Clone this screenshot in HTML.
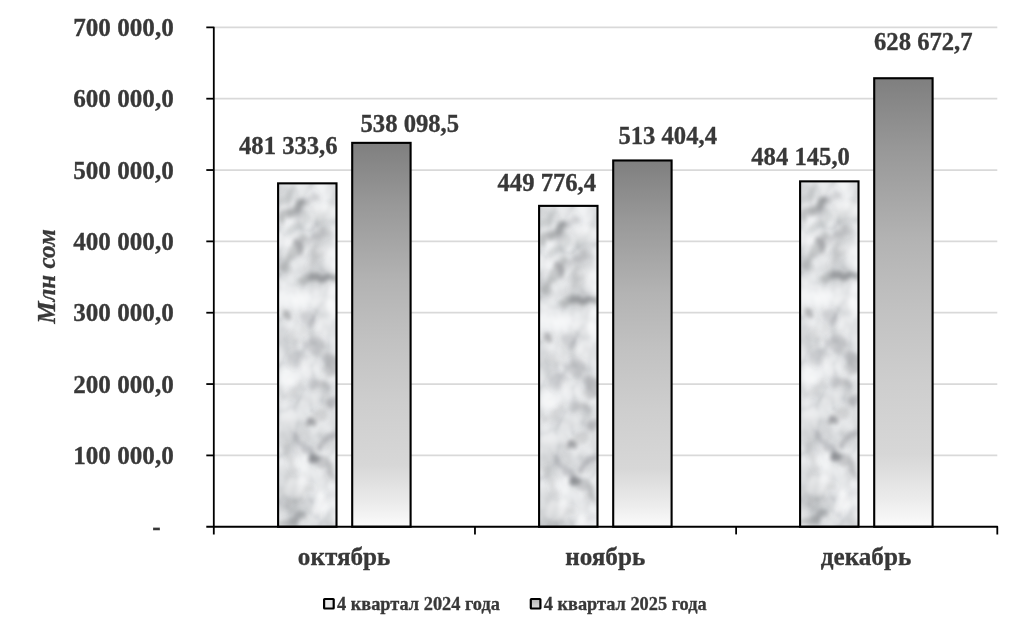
<!DOCTYPE html>
<html>
<head>
<meta charset="utf-8">
<style>
html,body{margin:0;padding:0;background:#fff;}
body{width:1024px;height:636px;overflow:hidden;font-family:"Liberation Serif",serif;}
svg{display:block;filter:blur(0.35px);}
text{font-family:"Liberation Serif",serif;font-weight:bold;fill:#383838;stroke:#383838;stroke-width:0.3px;}
</style>
</head>
<body>
<svg width="1024" height="636" viewBox="0 0 1024 636">
<defs>
<linearGradient id="g" x1="0" y1="0" x2="0" y2="1">
<stop offset="0" stop-color="#7f7f7f"/>
<stop offset="0.16" stop-color="#989898"/>
<stop offset="0.36" stop-color="#b3b3b3"/>
<stop offset="0.52" stop-color="#c2c2c2"/>
<stop offset="0.68" stop-color="#cecece"/>
<stop offset="0.84" stop-color="#d7d7d7"/>
<stop offset="0.94" stop-color="#ececec"/>
<stop offset="1" stop-color="#fbfbfb"/>
</linearGradient>
<filter id="marble" x="0" y="0" width="100%" height="100%" color-interpolation-filters="sRGB">
<feTurbulence type="turbulence" baseFrequency="0.03 0.022" numOctaves="3" seed="11" result="t"/>
<feColorMatrix in="t" type="matrix" values="1 0 0 0 0  1 0 0 0 0  1 0 0 0 0  0 0 0 0 1" result="tg"/>
<feComponentTransfer in="tg" result="veins">
<feFuncR type="table" tableValues="0.90 0.95 0.98 1 1 1 1 1"/>
<feFuncG type="table" tableValues="0.905 0.953 0.981 1 1 1 1 1"/>
<feFuncB type="table" tableValues="0.91 0.956 0.982 1 1 1 1 1"/>
</feComponentTransfer>
<feTurbulence type="fractalNoise" baseFrequency="0.04 0.03" numOctaves="3" seed="5" result="f"/>
<feColorMatrix in="f" type="matrix" values="0 1 0 0 0  0 1 0 0 0  0 1 0 0 0  0 0 0 0 1" result="fg"/>
<feComponentTransfer in="fg" result="cloud">
<feFuncR type="table" tableValues="0.81 0.81 0.845 0.90 0.943 0.966 0.966"/>
<feFuncG type="table" tableValues="0.818 0.818 0.853 0.907 0.949 0.97 0.97"/>
<feFuncB type="table" tableValues="0.826 0.826 0.861 0.914 0.955 0.974 0.974"/>
</feComponentTransfer>
<feBlend in="veins" in2="cloud" mode="multiply"/>
<feGaussianBlur stdDeviation="0.9"/>
</filter>
<filter id="vb" x="-20%" y="-5%" width="140%" height="110%"><feTurbulence type="fractalNoise" baseFrequency="0.07 0.06" numOctaves="2" seed="2" result="d"/><feDisplacementMap in="SourceGraphic" in2="d" scale="14" xChannelSelector="R" yChannelSelector="G" result="w"/><feGaussianBlur in="w" stdDeviation="2.0"/></filter>
<g id="mtex">
<rect x="-2" y="-2" width="62" height="352" fill="#e6e8ea" filter="url(#marble)"/>
<g filter="url(#vb)" stroke="#6c6e72" fill="#6c6e72" stroke-linecap="round">
<line x1="36" y1="12" x2="15" y2="29" stroke-width="8.4" stroke-opacity="0.2" fill="none"/>
<line x1="22" y1="21" x2="2" y2="36" stroke-width="8.4" stroke-opacity="0.36" fill="none"/>
<line x1="28" y1="30" x2="10" y2="46" stroke-width="7.2" stroke-opacity="0.17" fill="none"/>
<line x1="49" y1="47" x2="30" y2="59" stroke-width="8.4" stroke-opacity="0.2" fill="none"/>
<line x1="25" y1="55" x2="4" y2="81" stroke-width="9.6" stroke-opacity="0.29" fill="none"/>
<circle cx="19" cy="61" r="5.0" fill-opacity="0.32" stroke="none"/>
<line x1="25" y1="95" x2="56" y2="95" stroke-width="7.2" stroke-opacity="0.36" fill="none"/>
<line x1="34" y1="95" x2="50" y2="94" stroke-width="4.8" stroke-opacity="0.34" fill="none"/>
<line x1="50" y1="20" x2="40" y2="40" stroke-width="7.2" stroke-opacity="0.14" fill="none"/>
<line x1="14" y1="6" x2="4" y2="16" stroke-width="7.2" stroke-opacity="0.17" fill="none"/>
<line x1="40" y1="66" x2="30" y2="80" stroke-width="7.2" stroke-opacity="0.12" fill="none"/>
<circle cx="9" cy="128" r="5.0" fill-opacity="0.43" stroke="none"/>
<circle cx="27" cy="136" r="7.5" fill-opacity="0.18" stroke="none"/>
<circle cx="36" cy="162" r="8.8" fill-opacity="0.23" stroke="none"/>
<circle cx="53" cy="181" r="8.8" fill-opacity="0.31" stroke="none"/>
<line x1="35" y1="199" x2="46" y2="199" stroke-width="9.6" stroke-opacity="0.24" fill="none"/>
<circle cx="53" cy="219" r="7.5" fill-opacity="0.32" stroke="none"/>
<circle cx="15" cy="175" r="8.8" fill-opacity="0.13" stroke="none"/>
<line x1="10" y1="150" x2="22" y2="158" stroke-width="7.2" stroke-opacity="0.12" fill="none"/>
<line x1="20" y1="205" x2="8" y2="215" stroke-width="7.2" stroke-opacity="0.12" fill="none"/>
<circle cx="31" cy="240" r="6.2" fill-opacity="0.5" stroke="none"/>
<line x1="18" y1="250" x2="35" y2="273" stroke-width="7.2" stroke-opacity="0.26" fill="none"/>
<circle cx="35" cy="273" r="5.6" fill-opacity="0.41" stroke="none"/>
<line x1="35" y1="273" x2="54" y2="290" stroke-width="7.2" stroke-opacity="0.31" fill="none"/>
<line x1="54" y1="250" x2="42" y2="262" stroke-width="7.2" stroke-opacity="0.32" fill="none"/>
<line x1="34" y1="300" x2="8" y2="323" stroke-width="7.2" stroke-opacity="0.12" fill="none"/>
<line x1="24" y1="331" x2="4" y2="342" stroke-width="7.2" stroke-opacity="0.38" fill="none"/>
<line x1="45" y1="230" x2="31" y2="240" stroke-width="7.2" stroke-opacity="0.22" fill="none"/>
<line x1="6" y1="262" x2="14" y2="285" stroke-width="7.2" stroke-opacity="0.12" fill="none"/>
<line x1="50" y1="310" x2="38" y2="330" stroke-width="7.2" stroke-opacity="0.1" fill="none"/>
</g>
<g filter="url(#vb)" fill="#fff" stroke="none">
<circle cx="45" cy="28" r="9" fill-opacity="0.39"/>
<circle cx="44" cy="120" r="10" fill-opacity="0.35"/>
<circle cx="24" cy="112" r="8" fill-opacity="0.28"/>
<circle cx="18" cy="304" r="10" fill-opacity="0.39"/>
<circle cx="42" cy="322" r="9" fill-opacity="0.35"/>
<circle cx="12" cy="232" r="8" fill-opacity="0.28"/>
<circle cx="46" cy="70" r="7" fill-opacity="0.28"/>
<circle cx="10" cy="100" r="7" fill-opacity="0.24"/>
<circle cx="30" cy="180" r="8" fill-opacity="0.24"/>
<circle cx="20" cy="150" r="7" fill-opacity="0.21"/>
<circle cx="44" cy="140" r="7" fill-opacity="0.21"/>
<circle cx="28" cy="215" r="7" fill-opacity="0.21"/>
<circle cx="12" cy="195" r="7" fill-opacity="0.21"/>
</g>
</g>
</defs>
<rect width="1024" height="636" fill="#fff"/>
<g stroke="#d9d9d9" stroke-width="1.8">
<line x1="213.8" x2="997.3" y1="455.41" y2="455.41"/>
<line x1="213.8" x2="997.3" y1="384.06" y2="384.06"/>
<line x1="213.8" x2="997.3" y1="312.72" y2="312.72"/>
<line x1="213.8" x2="997.3" y1="241.38" y2="241.38"/>
<line x1="213.8" x2="997.3" y1="170.04" y2="170.04"/>
<line x1="213.8" x2="997.3" y1="98.69" y2="98.69"/>
<line x1="213.8" x2="997.3" y1="27.35" y2="27.35"/>
</g>
<g stroke="#000" stroke-width="2.1">
<clipPath id="c0"><rect x="278.10" y="183.35" width="58.4" height="343.40"/></clipPath>
<g clip-path="url(#c0)" stroke="none"><use href="#mtex" x="279.10" y="184.35"/></g>
<rect x="278.10" y="183.35" width="58.4" height="343.40" fill="none"/>
<rect x="352.20" y="142.86" width="58.4" height="383.89" fill="url(#g)"/>
<clipPath id="c1"><rect x="539.10" y="205.87" width="58.4" height="320.88"/></clipPath>
<g clip-path="url(#c1)" stroke="none"><use href="#mtex" x="540.10" y="206.87"/></g>
<rect x="539.10" y="205.87" width="58.4" height="320.88" fill="none"/>
<rect x="613.20" y="160.47" width="58.4" height="366.28" fill="url(#g)"/>
<clipPath id="c2"><rect x="800.10" y="181.35" width="58.4" height="345.40"/></clipPath>
<g clip-path="url(#c2)" stroke="none"><use href="#mtex" x="801.10" y="182.35"/></g>
<rect x="800.10" y="181.35" width="58.4" height="345.40" fill="none"/>
<rect x="874.20" y="78.24" width="58.4" height="448.51" fill="url(#g)"/>
</g>
<g stroke="#000" stroke-width="1.8">
<path d="M206.3,27.35 H213.8 V534.4" fill="none" stroke-linejoin="round"/>
<path d="M206.3,526.75 H997.3 V534.4" fill="none" stroke-linejoin="round"/>
<line x1="206.3" x2="213.8" y1="455.41" y2="455.41"/>
<line x1="206.3" x2="213.8" y1="384.06" y2="384.06"/>
<line x1="206.3" x2="213.8" y1="312.72" y2="312.72"/>
<line x1="206.3" x2="213.8" y1="241.38" y2="241.38"/>
<line x1="206.3" x2="213.8" y1="170.04" y2="170.04"/>
<line x1="206.3" x2="213.8" y1="98.69" y2="98.69"/>
<line x1="474.97" x2="474.97" y1="526.75" y2="534.4"/>
<line x1="736.13" x2="736.13" y1="526.75" y2="534.4"/>
</g>
<text transform="translate(173.80,463.91) scale(1.04,1)" style="font-size:24.2px;text-anchor:end;">100 000,0</text>
<text transform="translate(173.80,392.56) scale(1.04,1)" style="font-size:24.2px;text-anchor:end;">200 000,0</text>
<text transform="translate(173.80,321.22) scale(1.04,1)" style="font-size:24.2px;text-anchor:end;">300 000,0</text>
<text transform="translate(173.80,249.88) scale(1.04,1)" style="font-size:24.2px;text-anchor:end;">400 000,0</text>
<text transform="translate(173.80,178.54) scale(1.04,1)" style="font-size:24.2px;text-anchor:end;">500 000,0</text>
<text transform="translate(173.80,107.19) scale(1.04,1)" style="font-size:24.2px;text-anchor:end;">600 000,0</text>
<text transform="translate(173.80,35.85) scale(1.04,1)" style="font-size:24.2px;text-anchor:end;">700 000,0</text>
<text transform="translate(160.60,534.80) scale(1.035,1)" style="font-size:24.5px;text-anchor:end;">-</text>
<text transform="translate(55.2,276.5) rotate(-90) scale(1,0.99)" style="font-size:25.1px;font-style:italic;text-anchor:middle">Млн сом</text>
<text transform="translate(288.30,154.00) scale(1.019,1)" style="font-size:24.2px;text-anchor:middle;">481 333,6</text>
<text transform="translate(409.80,131.70) scale(1.019,1)" style="font-size:24.2px;text-anchor:middle;">538 098,5</text>
<text transform="translate(546.80,190.60) scale(1.019,1)" style="font-size:24.2px;text-anchor:middle;">449 776,4</text>
<text transform="translate(667.70,144.20) scale(1.019,1)" style="font-size:24.2px;text-anchor:middle;">513 404,4</text>
<text transform="translate(800.60,165.20) scale(1.019,1)" style="font-size:24.2px;text-anchor:middle;">484 145,0</text>
<text transform="translate(923.30,49.60) scale(1.019,1)" style="font-size:24.2px;text-anchor:middle;">628 672,7</text>
<text transform="translate(344.10,565.30) scale(1.04,1)" style="font-size:24.2px;text-anchor:middle;">октябрь</text>
<text transform="translate(605.20,565.30) scale(1.04,1)" style="font-size:24.2px;text-anchor:middle;">ноябрь</text>
<text transform="translate(866.00,565.30) scale(1.04,1)" style="font-size:24.2px;text-anchor:middle;">декабрь</text>
<linearGradient id="lg2" x1="0" y1="0" x2="0" y2="1"><stop offset="0" stop-color="#b4b4b4"/><stop offset="1" stop-color="#dedede"/></linearGradient>
<rect x="324.1" y="599.0" width="9.6" height="9.5" rx="0.6" fill="#e9e9e9" stroke="#000" stroke-width="2.2"/>
<text transform="translate(337.00,609.70) scale(1.019,1)" style="font-size:18px;text-anchor:start;">4 квартал 2024 года</text>
<rect x="530.8" y="599.0" width="9.6" height="9.5" rx="0.6" fill="url(#lg2)" stroke="#000" stroke-width="2.2"/>
<text transform="translate(543.70,609.70) scale(1.019,1)" style="font-size:18px;text-anchor:start;">4 квартал 2025 года</text>
</svg>
</body>
</html>
